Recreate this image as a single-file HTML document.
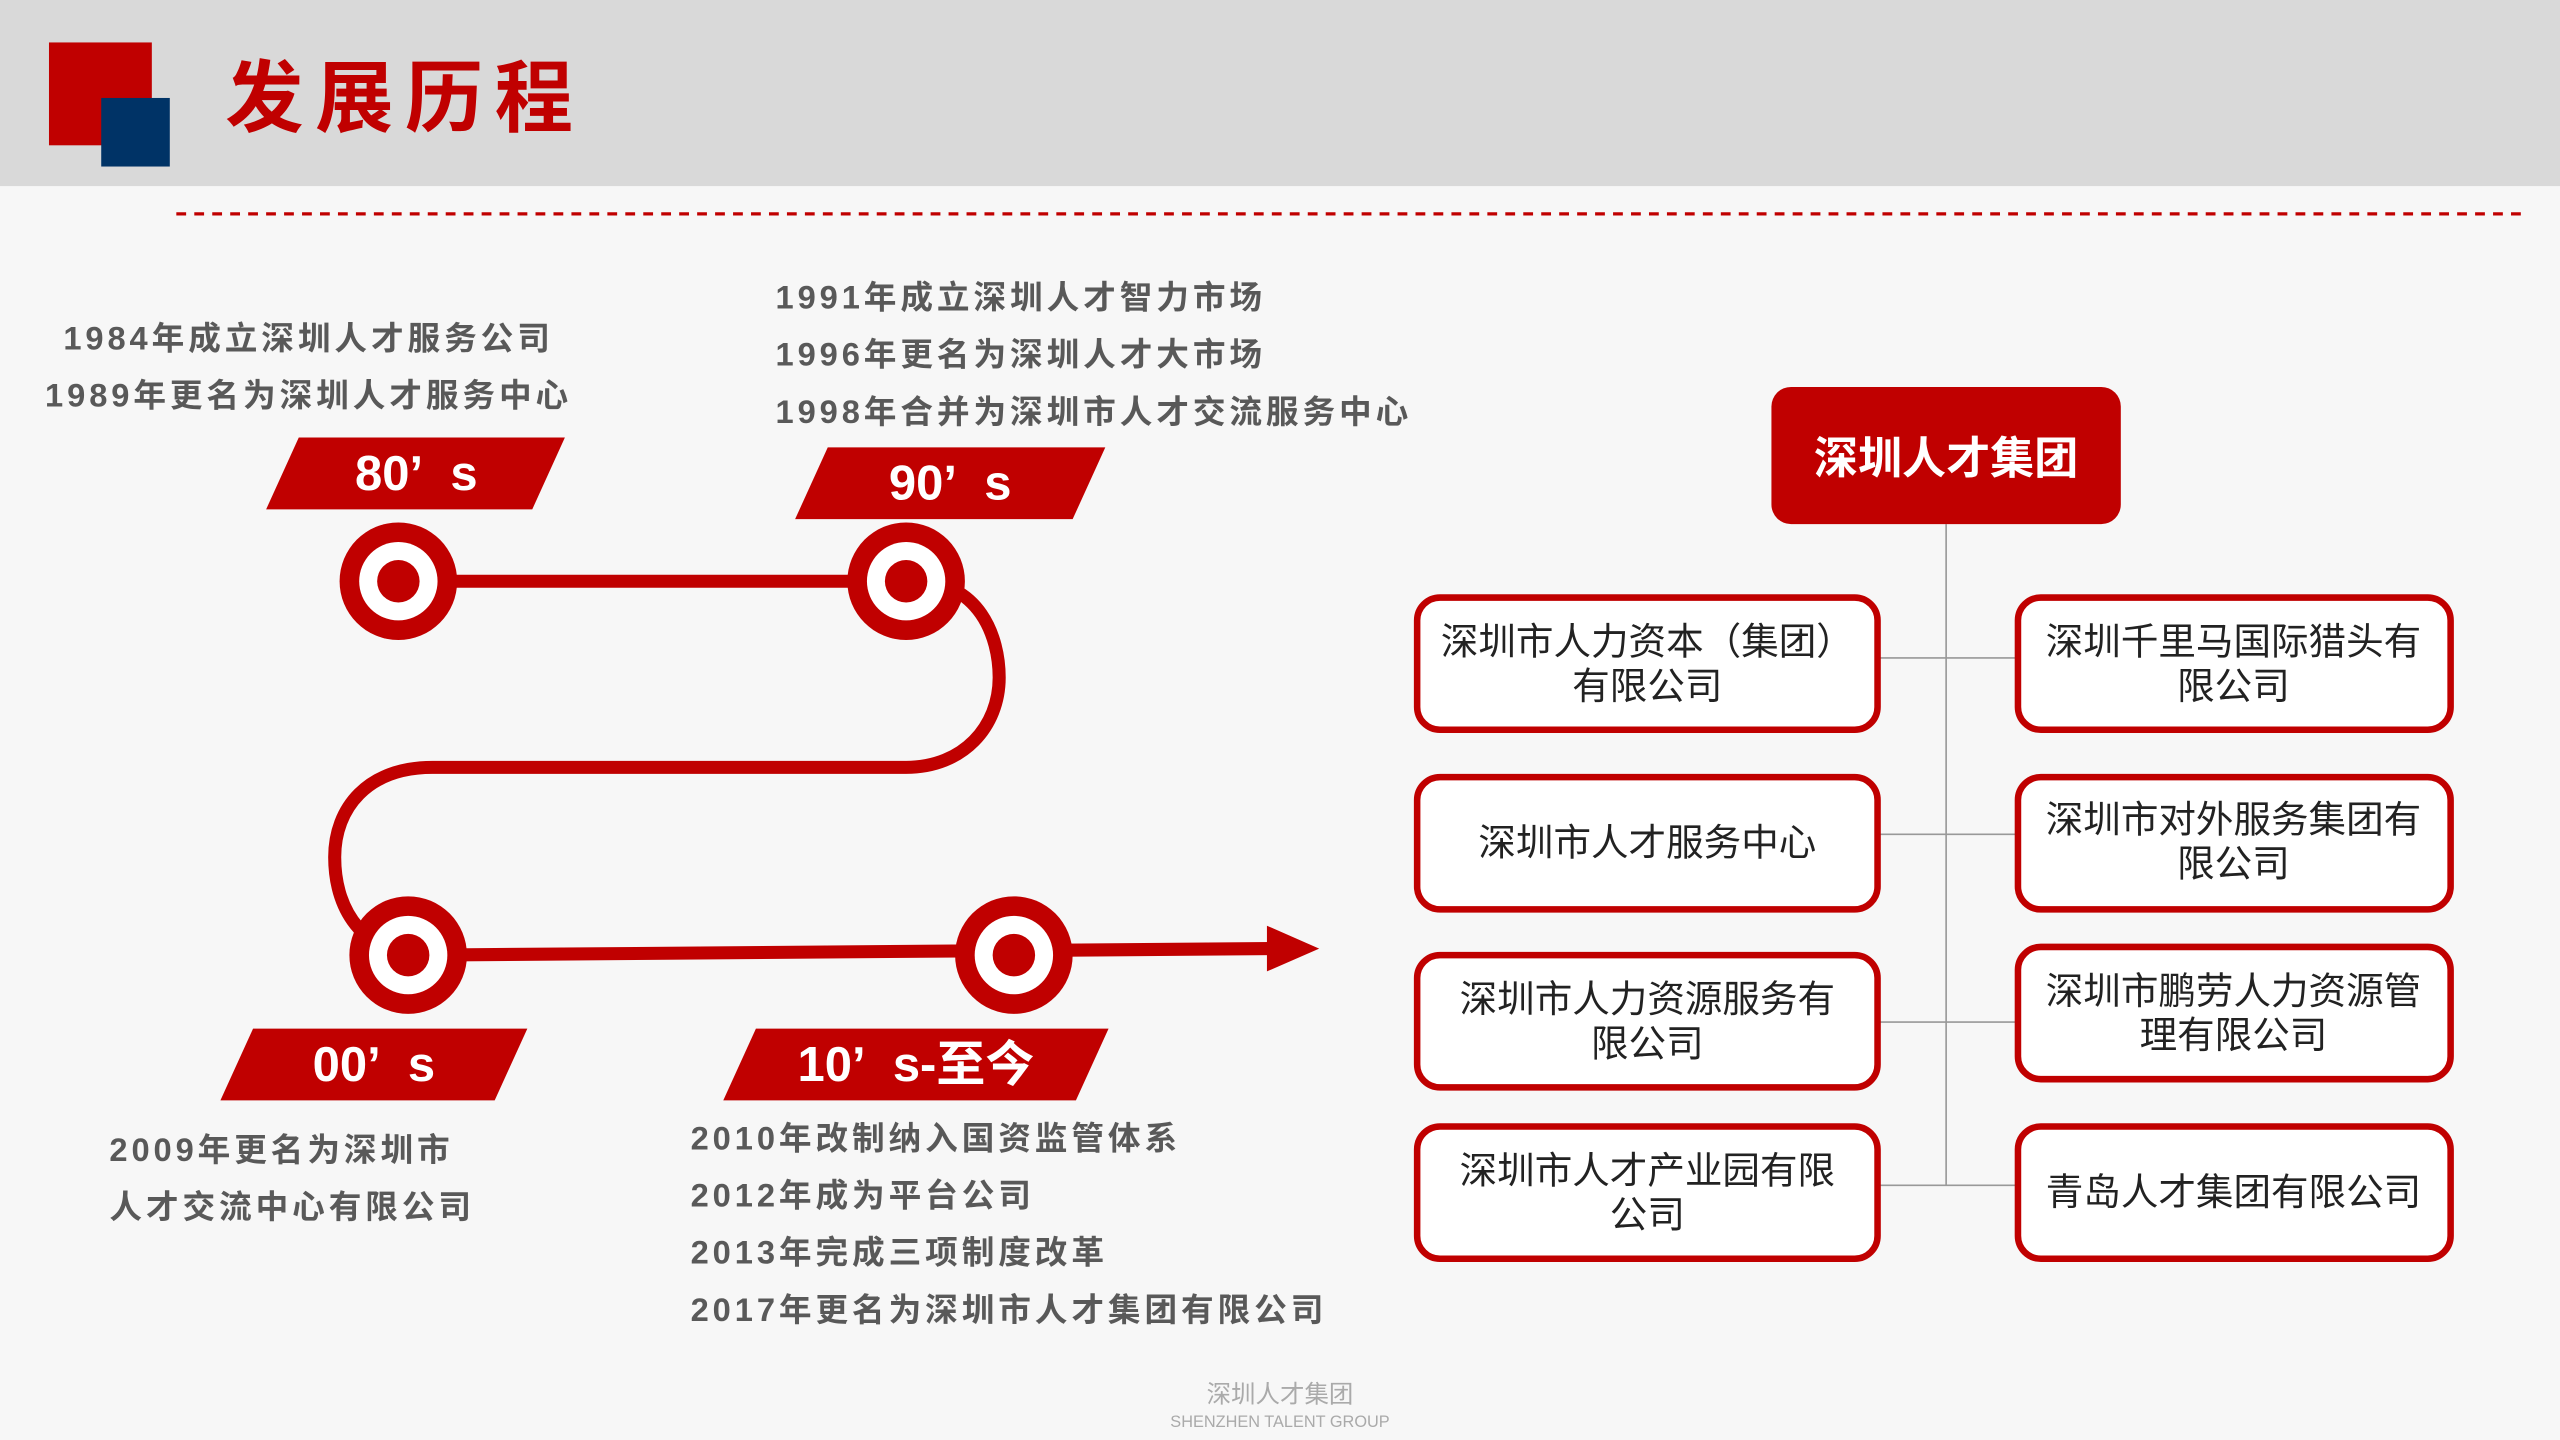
<!DOCTYPE html>
<html><head><meta charset="utf-8"><style>
html,body{margin:0;padding:0;background:#f7f7f7;}
svg{display:block}
text{font-family:"Liberation Sans","Noto Sans CJK SC",sans-serif;}
</style></head><body>
<svg width="2560" height="1440" viewBox="0 0 1568 882" preserveAspectRatio="none" xmlns="http://www.w3.org/2000/svg">
<rect width="1568" height="882" fill="#f7f7f7"/>
<rect width="1568" height="114" fill="#d9d9d9"/>
<rect x="30" y="26" width="63" height="63" fill="#c00000"/>
<rect x="62" y="60" width="42" height="42" fill="#003366"/>
<text x="138" y="77" font-size="48" font-weight="bold" fill="#c00000" letter-spacing="7">发展历程</text>
<line x1="108" y1="131" x2="1545" y2="131" stroke="#c00000" stroke-width="2" stroke-dasharray="6,5"/>

<path d="M244 356 H560 C600 356 612 390 612 415 C612 445 590 470 555 470 H265 C225 470 205 495 205 525 C205 560 225 585 260 585 L780 581" fill="none" stroke="#c00000" stroke-width="8"/>
<polygon points="776,567 808,581 776,595" fill="#c00000"/>
<g fill="#c00000">
<circle cx="244" cy="356" r="36"/><circle cx="555" cy="356" r="36"/><circle cx="250" cy="585" r="36"/><circle cx="621" cy="585" r="36"/>
</g>
<g fill="#fff">
<circle cx="244" cy="356" r="24"/><circle cx="555" cy="356" r="24"/><circle cx="250" cy="585" r="24"/><circle cx="621" cy="585" r="24"/>
</g>
<g fill="#c00000">
<circle cx="244" cy="356" r="13"/><circle cx="555" cy="356" r="13"/><circle cx="250" cy="585" r="13"/><circle cx="621" cy="585" r="13"/>
<polygon points="183,268 346,268 326,312 163,312"/>
<polygon points="507,274 677,274 657,318 487,318"/>
<polygon points="155,630 323,630 303,674 135,674"/>
<polygon points="463,630 679,630 659,674 443,674"/>
</g>
<g fill="#fff" font-weight="bold" font-size="30" text-anchor="middle">
<text x="255" y="300">80’&#160;&#160;s</text>
<text x="582" y="306">90’&#160;&#160;s</text>
<text x="229" y="662">00’&#160;&#160;s</text>
<text x="561" y="662">10’&#160;&#160;s-至今</text>
</g>
<g fill="#595959" font-weight="bold" font-size="20" letter-spacing="2.4">
<text x="189" y="214" text-anchor="middle">1984年成立深圳人才服务公司</text>
<text x="189" y="249" text-anchor="middle">1989年更名为深圳人才服务中心</text>
<text x="475" y="189">1991年成立深圳人才智力市场</text>
<text x="475" y="224">1996年更名为深圳人才大市场</text>
<text x="475" y="259">1998年合并为深圳市人才交流服务中心</text>
<text x="67" y="711">2009年更名为深圳市</text>
<text x="67" y="746">人才交流中心有限公司</text>
<text x="423" y="704">2010年改制纳入国资监管体系</text>
<text x="423" y="739">2012年成为平台公司</text>
<text x="423" y="774">2013年完成三项制度改革</text>
<text x="423" y="809">2017年更名为深圳市人才集团有限公司</text>
</g>

<line x1="1192" y1="321" x2="1192" y2="726" stroke="#999" stroke-width="1"/>
<g stroke="#999" stroke-width="1">
<line x1="1150" y1="403" x2="1236" y2="403"/>
<line x1="1150" y1="511" x2="1236" y2="511"/>
<line x1="1150" y1="626" x2="1236" y2="626"/>
<line x1="1150" y1="726" x2="1236" y2="726"/>
</g>
<rect x="1085" y="237" width="214" height="84" rx="12" fill="#c00000"/>
<text x="1192" y="290" font-size="27" font-weight="bold" fill="#fff" text-anchor="middle">深圳人才集团</text>
<g fill="#fff" stroke="#c00000" stroke-width="4">
<rect x="868" y="366" width="282" height="81" rx="14"/>
<rect x="868" y="476" width="282" height="81" rx="14"/>
<rect x="868" y="585" width="282" height="81" rx="14"/>
<rect x="868" y="690" width="282" height="81" rx="14"/>
<rect x="1236" y="366" width="265" height="81" rx="14"/>
<rect x="1236" y="476" width="265" height="81" rx="14"/>
<rect x="1236" y="580" width="265" height="81" rx="14"/>
<rect x="1236" y="690" width="265" height="81" rx="14"/>
</g>
<g fill="#222" font-size="23" text-anchor="middle">
<text x="1009" y="401">深圳市人力资本（集团）</text>
<text x="1009" y="428">有限公司</text>
<text x="1009" y="524">深圳市人才服务中心</text>
<text x="1009" y="620">深圳市人力资源服务有</text>
<text x="1009" y="647">限公司</text>
<text x="1009" y="725">深圳市人才产业园有限</text>
<text x="1009" y="752">公司</text>
<text x="1368" y="401">深圳千里马国际猎头有</text>
<text x="1368" y="428">限公司</text>
<text x="1368" y="510">深圳市对外服务集团有</text>
<text x="1368" y="537">限公司</text>
<text x="1368" y="615">深圳市鹏劳人力资源管</text>
<text x="1368" y="642">理有限公司</text>
<text x="1368" y="738">青岛人才集团有限公司</text>
</g>
<text x="784" y="859" font-size="15" fill="#aaa" text-anchor="middle">深圳人才集团</text>
<text x="784" y="874" font-size="10" fill="#aaa" text-anchor="middle">SHENZHEN TALENT GROUP</text>
</svg>
</body></html>
